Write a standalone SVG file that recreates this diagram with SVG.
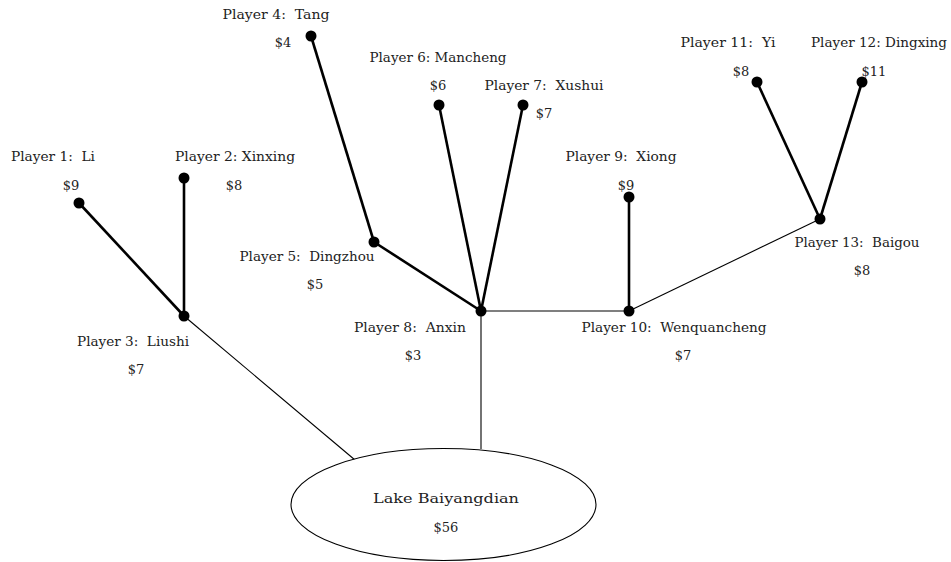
<svg xmlns="http://www.w3.org/2000/svg" width="951" height="562" viewBox="0 0 951 562">
<style>
text{font-family:"DejaVu Serif","Liberation Serif",serif;font-size:13px;fill:#222;text-anchor:middle;white-space:pre}
.thick{stroke:#000;stroke-width:2.6;fill:none}
.thin{stroke:#000;stroke-width:1.1;fill:none}
.dot{fill:#000}
</style>
<rect width="951" height="562" fill="#fff"/>
<g id="connectors">
<line class="thick" x1="79" y1="203" x2="184" y2="316"/>
<line class="thick" x1="184" y1="178" x2="184" y2="316"/>
<line class="thick" x1="311" y1="36" x2="374" y2="242"/>
<line class="thick" x1="374" y1="242" x2="481" y2="311"/>
<line class="thick" x1="439" y1="105" x2="481" y2="311"/>
<line class="thick" x1="523" y1="105" x2="481" y2="311"/>
<line class="thick" x1="629" y1="197" x2="629" y2="311"/>
<line class="thick" x1="757" y1="82" x2="820" y2="219"/>
<line class="thick" x1="862" y1="82" x2="820" y2="219"/>
<line class="thin" x1="481" y1="311" x2="629" y2="311"/>
<line class="thin" x1="629" y1="311" x2="820" y2="219"/>
<line class="thin" x1="184" y1="316" x2="355" y2="460"/>
<line class="thin" x1="481" y1="311" x2="481" y2="449"/>
</g>
<g id="lake">
<ellipse cx="443.5" cy="504.5" rx="152.5" ry="56" fill="#fff" stroke="#000" stroke-width="1.1"/>
<text x="446" y="503" textLength="146" lengthAdjust="spacingAndGlyphs">Lake Baiyangdian</text>
<text x="446" y="532">$56</text>
</g>
<g id="p1"><circle class="dot" cx="79" cy="203" r="5.5"/><text x="53" y="161" textLength="84" lengthAdjust="spacingAndGlyphs">Player 1:  Li</text><text x="71" y="190">$9</text></g>
<g id="p2"><circle class="dot" cx="184" cy="178" r="5.5"/><text x="235" y="161" textLength="120" lengthAdjust="spacingAndGlyphs">Player 2: Xinxing</text><text x="234" y="190">$8</text></g>
<g id="p3"><circle class="dot" cx="184" cy="316" r="5.5"/><text x="133" y="346" textLength="112" lengthAdjust="spacingAndGlyphs">Player 3:  Liushi</text><text x="136" y="374">$7</text></g>
<g id="p4"><circle class="dot" cx="311" cy="36" r="5.5"/><text x="276" y="19" textLength="107" lengthAdjust="spacingAndGlyphs">Player 4:  Tang</text><text x="283" y="47">$4</text></g>
<g id="p5"><circle class="dot" cx="374" cy="242" r="5.5"/><text x="307" y="261" textLength="135" lengthAdjust="spacingAndGlyphs">Player 5:  Dingzhou</text><text x="315" y="289">$5</text></g>
<g id="p6"><circle class="dot" cx="439" cy="105" r="5.5"/><text x="438" y="62" textLength="137" lengthAdjust="spacingAndGlyphs">Player 6: Mancheng</text><text x="438" y="90">$6</text></g>
<g id="p7"><circle class="dot" cx="523" cy="105" r="5.5"/><text x="544" y="90" textLength="119" lengthAdjust="spacingAndGlyphs">Player 7:  Xushui</text><text x="544" y="118">$7</text></g>
<g id="p8"><circle class="dot" cx="481" cy="311" r="5.5"/><text x="410" y="332" textLength="112" lengthAdjust="spacingAndGlyphs">Player 8:  Anxin</text><text x="413" y="360">$3</text></g>
<g id="p9"><circle class="dot" cx="629" cy="197" r="5.5"/><text x="621" y="161" textLength="111" lengthAdjust="spacingAndGlyphs">Player 9:  Xiong</text><text x="626" y="190">$9</text></g>
<g id="p10"><circle class="dot" cx="629" cy="311" r="5.5"/><text x="674" y="332" textLength="185" lengthAdjust="spacingAndGlyphs">Player 10:  Wenquancheng</text><text x="683" y="360">$7</text></g>
<g id="p11"><circle class="dot" cx="757" cy="82" r="5.5"/><text x="728" y="47" textLength="95" lengthAdjust="spacingAndGlyphs">Player 11:  Yi</text><text x="741" y="76">$8</text></g>
<g id="p12"><circle class="dot" cx="862" cy="82" r="5.5"/><text x="879" y="47" textLength="136" lengthAdjust="spacingAndGlyphs">Player 12: Dingxing</text><text x="874" y="76">$11</text></g>
<g id="p13"><circle class="dot" cx="820" cy="219" r="5.5"/><text x="857" y="247" textLength="125" lengthAdjust="spacingAndGlyphs">Player 13:  Baigou</text><text x="862" y="275">$8</text></g>
</svg>
